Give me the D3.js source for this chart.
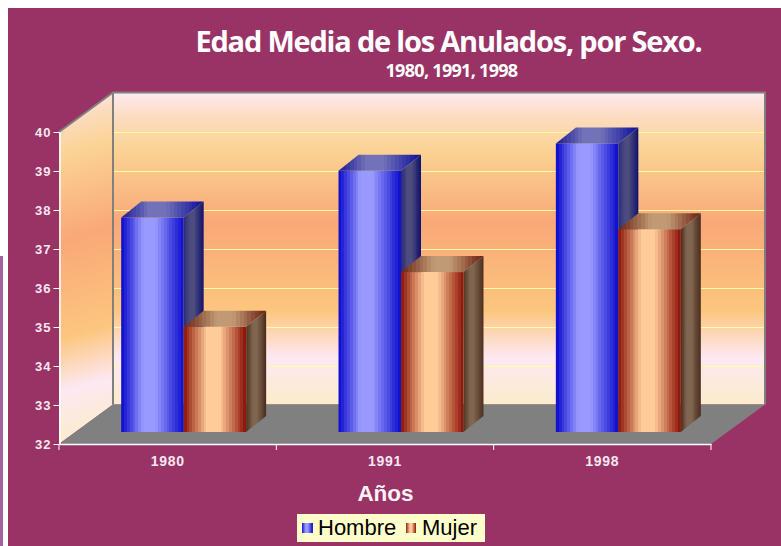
<!DOCTYPE html>
<html>
<head>
<meta charset="utf-8">
<script src="https://cdn.jsdelivr.net/npm/d3@7/dist/d3.min.js"></script>
<style>
    html, body { margin: 0; padding: 0; background: #fff; overflow: hidden; }
    svg { display: block; }
    .axis text { font-family: "Liberation Sans", Arial, sans-serif; font-weight: bold; fill: #f7e8f0; }
    .axis line, .axis path { stroke: #fff; }
</style>
</head>
<body>
<div id="chart"></div>
<script>
// Datos
const years = ['1980', '1991', '1998'];
const seriesNames = ['Hombre', 'Mujer'];
const hombre = [37.5, 38.7, 39.4];
const mujer = [34.7, 36.1, 37.2];
const yTicks = [32, 33, 34, 35, 36, 37, 38, 39, 40];

const width = 781, height = 546;
// profundidad de la caja 3D y de las barras
const boxDx = 54, boxDy = 39.5;
const barDx = 20, barDy = 16;
const barInX = 16, barInY = 12;

const svg = d3.select('#chart').append('svg')
    .attr('width', width).attr('height', height);
const defs = svg.append('defs');

// fondo
svg.append('rect').attr('x', 8).attr('y', 8).attr('width', width - 8).attr('height', height - 8).attr('fill', '#993366');
svg.append('rect').attr('x', 0).attr('y', 256).attr('width', 3).attr('height', height - 256).attr('fill', '#a2609f');

// escalas
const yScale = d3.scaleLinear().domain([32, 40]).range([444, 132]);
const xScale = d3.scaleBand().domain(years).range([59, 711]);
const xInner = d3.scaleBand().domain(seriesNames).range([0, xScale.bandwidth()]).paddingInner(0).paddingOuter(0.739);

const x0 = xScale.range()[0], x1 = xScale.range()[1];
const yBottom = yScale.range()[0], yTop = yScale.range()[1];

// degradado de las paredes
const wallStops = [
    [0, '#fdeaf0'], [0.08, '#fcdcc0'], [0.18, '#fbd394'], [0.42, '#f9a877'],
    [0.7, '#fcc67f'], [0.85, '#fde8f2'], [1, '#fbeccb']
];
function wallGradient(id, x2, y2) {
    const g = defs.append('linearGradient').attr('id', id)
        .attr('x1', 0).attr('y1', 0).attr('x2', x2).attr('y2', y2);
    wallStops.forEach(s => g.append('stop').attr('offset', s[0]).attr('stop-color', s[1]));
}
wallGradient('wallBack', 0, 1);
wallGradient('wallSide', 0.04, 1);

// gradiente por bandas, como el original
function bandGradient(id, edgeL, mid, edgeR, peak) {
    const g = defs.append('linearGradient').attr('id', id);
    const n = 22;
    d3.range(n).forEach(i => {
        const t = (i + 0.5) / n;
        // meseta clara en el centro
        const c = t < peak ? d3.interpolateRgb(edgeL, mid)(Math.min(1, t / (peak * 0.8)))
            : d3.interpolateRgb(edgeR, mid)(Math.min(1, (1 - t) / ((1 - peak) * 0.8)));
        g.append('stop').attr('offset', i / n).attr('stop-color', c);
        g.append('stop').attr('offset', (i + 1) / n).attr('stop-color', c);
    });
}
bandGradient('hFront', '#0808cc', '#9999ff', '#0a0acc', 0.44);
bandGradient('hTop', '#1c1c90', '#7272b8', '#0c0c9c', 0.42);
bandGradient('hSide', '#2a2a78', '#4c4c7e', '#10106c', 0.4);
bandGradient('mFront', '#8a1408', '#ffcc99', '#8a0e04', 0.47);
bandGradient('mTop', '#6a2414', '#c09a74', '#6a1c10', 0.5);
bandGradient('mSide', '#4e3020', '#806650', '#4a2c1e', 0.4);

const poly = pts => pts.map(p => p.join(',')).join(' ');

// pared lateral, pared del fondo, suelo
svg.append('polygon')
    .attr('points', poly([[x0, yTop], [x0 + boxDx, yTop - boxDy], [x0 + boxDx, yBottom - boxDy], [x0, yBottom]]))
    .attr('fill', 'url(#wallSide)');
svg.append('rect')
    .attr('x', x0 + boxDx).attr('y', yTop - boxDy)
    .attr('width', x1 - x0).attr('height', yBottom - yTop)
    .attr('fill', 'url(#wallBack)');

svg.append('g').selectAll('line').data(yTicks.slice(1, -1)).enter().append('line')
    .attr('x1', x0 + boxDx).attr('x2', x1 + boxDx)
    .attr('y1', d => Math.round(yScale(d) - boxDy) + 0.5)
    .attr('y2', d => Math.round(yScale(d) - boxDy) + 0.5)
    .attr('stroke', '#ffff99').attr('stroke-width', 1);

svg.append('polygon')
    .attr('points', poly([[x0, yBottom], [x0 + boxDx, yBottom - boxDy], [x1 + boxDx, yBottom - boxDy], [x1, yBottom]]))
    .attr('fill', '#808080');

// bordes grises de la caja
svg.append('polyline')
    .attr('points', poly([[x0, yTop], [x0 + boxDx, yTop - boxDy], [x1 + boxDx, yTop - boxDy], [x1 + boxDx, yBottom - boxDy]]))
    .attr('fill', 'none').attr('stroke', '#808080').attr('stroke-width', 2);
svg.append('line')
    .attr('x1', x0 + boxDx).attr('x2', x0 + boxDx)
    .attr('y1', yTop - boxDy).attr('y2', yBottom - boxDy)
    .attr('stroke', '#808080').attr('stroke-width', 2);

// barras
const barData = years.flatMap((y, i) => [
    { year: y, name: 'Hombre', value: hombre[i], key: 'h' },
    { year: y, name: 'Mujer', value: mujer[i], key: 'm' }
]);
const bars = svg.append('g').attr('class', 'bars')
    .selectAll('g').data(barData).enter().append('g');
const bx = d => xScale(d.year) + xInner(d.name) + barInX;
const by = d => yScale(d.value) - barInY;
const bw = xInner.bandwidth();
const bBase = yScale(32) - barInY;

bars.append('rect')
    .attr('x', bx).attr('y', by)
    .attr('width', bw).attr('height', d => bBase - by(d))
    .attr('fill', d => `url(#${d.key}Front)`);
bars.append('polygon')
    .attr('points', d => poly([[bx(d), by(d)], [bx(d) + barDx, by(d) - barDy], [bx(d) + bw + barDx, by(d) - barDy], [bx(d) + bw, by(d)]]))
    .attr('fill', d => `url(#${d.key}Top)`);
bars.append('polygon')
    .attr('points', d => poly([[bx(d) + bw, by(d)], [bx(d) + bw + barDx, by(d) - barDy], [bx(d) + bw + barDx, bBase - barDy], [bx(d) + bw, bBase]]))
    .attr('fill', d => `url(#${d.key}Side)`);

// ejes
const yAxis = d3.axisLeft(yScale).tickValues(yTicks).tickFormat(d3.format('d')).tickSize(6).tickSizeOuter(0);
const gy = svg.append('g').attr('class', 'axis').attr('transform', `translate(${x0 + 0.5},0)`).call(yAxis);
gy.selectAll('path').attr('stroke-width', 1.5);
gy.selectAll('text').attr('x', -8).style('font-size', '13px').style('letter-spacing', '1px');

const xAxis = d3.axisBottom(xScale).tickSize(0).tickSizeOuter(0);
const gx = svg.append('g').attr('class', 'axis').attr('transform', `translate(0,${yBottom})`).call(xAxis);
gx.select('path').attr('stroke-width', 1.5);
gx.selectAll('text').attr('y', 12).style('font-size', '14px').style('letter-spacing', '0.7px');
// marcas entre categorias
svg.append('g').selectAll('line').data(years.concat(['fin'])).enter().append('line')
    .attr('x1', (d, i) => x0 + i * xScale.step()).attr('x2', (d, i) => x0 + i * xScale.step())
    .attr('y1', yBottom).attr('y2', yBottom + 6)
    .attr('stroke', '#fff');

// titulos
svg.append('text').attr('x', 448.5).attr('y', 52)
    .attr('text-anchor', 'middle')
    .style('font-family', '"Open Sans", sans-serif').style('font-weight', 'bold')
    .style('font-size', '29px').style('letter-spacing', '-1.2px').style('fill', '#fff')
    .text('Edad Media de los Anulados, por Sexo.');
svg.append('text').attr('x', 451.5).attr('y', 77)
    .attr('text-anchor', 'middle')
    .style('font-family', '"Open Sans", sans-serif').style('font-weight', 'bold')
    .style('font-size', '18px').style('letter-spacing', '-0.7px').style('fill', '#fff')
    .text('1980, 1991, 1998');
svg.append('text').attr('x', 385.5).attr('y', 501)
    .attr('text-anchor', 'middle')
    .style('font-family', '"Liberation Sans", Arial, sans-serif').style('font-weight', 'bold')
    .style('font-size', '22.5px').style('fill', '#fbf2f6')
    .text('Años');

// leyenda
const legend = svg.append('g').attr('class', 'legend');
legend.append('rect').attr('x', 297).attr('y', 514).attr('width', 188).attr('height', 28).attr('fill', '#ffffcc');
const legendX = [302, 406];
legend.selectAll('.swatch').data(seriesNames).enter().append('rect')
    .attr('class', 'swatch')
    .attr('x', (d, i) => legendX[i]).attr('y', 523)
    .attr('width', (d, i) => (i === 0 ? 11 : 10)).attr('height', 10)
    .attr('fill', (d, i) => (i === 0 ? 'url(#hFront)' : 'url(#mFront)'));
legend.selectAll('.label').data(seriesNames).enter().append('text')
    .attr('class', 'label')
    .attr('x', (d, i) => legendX[i] + 16).attr('y', 535)
    .style('font-family', '"Liberation Sans", Arial, sans-serif')
    .style('font-size', '22px').style('fill', '#000')
    .text(d => d);
</script>
</body>
</html>
